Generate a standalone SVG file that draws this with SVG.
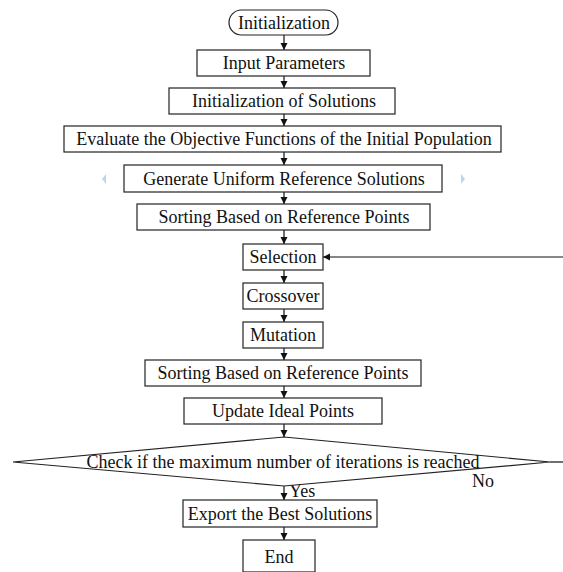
<svg xmlns="http://www.w3.org/2000/svg" width="563" height="572" viewBox="0 0 563 572">
<defs>
<marker id="ah" markerWidth="8" markerHeight="8" refX="7" refY="4" orient="auto" markerUnits="userSpaceOnUse">
<path d="M0,0.5 L7,4 L0,7.5 Z" fill="#111"/>
</marker>
</defs>
<style>
.box{fill:#fff;stroke:#222;stroke-width:1.2}
.t{font-family:"Liberation Serif","Times New Roman",serif;font-size:18px;fill:#111;text-anchor:middle}
.c{stroke:#111;stroke-width:1.2;fill:none}
.tri{fill:#b9d6ea}
</style>
<rect width="563" height="572" fill="#fff"/>
<g id="connectors">
<line class="c" x1="284" y1="35" x2="284" y2="50" marker-end="url(#ah)"/>
<line class="c" x1="284" y1="76" x2="284" y2="88" marker-end="url(#ah)"/>
<line class="c" x1="284" y1="114" x2="284" y2="126" marker-end="url(#ah)"/>
<line class="c" x1="284" y1="152" x2="284" y2="165" marker-end="url(#ah)"/>
<line class="c" x1="284" y1="192" x2="284" y2="204" marker-end="url(#ah)"/>
<line class="c" x1="284" y1="230" x2="284" y2="244" marker-end="url(#ah)"/>
<line class="c" x1="284" y1="270" x2="284" y2="283" marker-end="url(#ah)"/>
<line class="c" x1="284" y1="309" x2="284" y2="322" marker-end="url(#ah)"/>
<line class="c" x1="284" y1="348" x2="284" y2="360" marker-end="url(#ah)"/>
<line class="c" x1="284" y1="386" x2="284" y2="398" marker-end="url(#ah)"/>
<line class="c" x1="284" y1="424" x2="284" y2="437" marker-end="url(#ah)"/>
<line class="c" x1="284" y1="486" x2="284" y2="500" marker-end="url(#ah)"/>
<line class="c" x1="284" y1="527" x2="284" y2="540" marker-end="url(#ah)"/>
<polyline class="c" points="550,462 563,462"/>
<line class="c" x1="563" y1="257" x2="323" y2="257" marker-end="url(#ah)"/>
<text class="t" x="289" y="497" style="text-anchor:start">Yes</text>
<text class="t" x="472" y="487" style="text-anchor:start">No</text>
</g>
<g id="n-init"><rect class="box" x="229" y="10" width="109" height="25" rx="12.5"/><text class="t" x="284" y="29">Initialization</text></g>
<g id="n-input"><rect class="box" x="197" y="50" width="173" height="26"/><text class="t" x="284" y="69">Input Parameters</text></g>
<g id="n-initsol"><rect class="box" x="169" y="88" width="226" height="26"/><text class="t" x="284" y="107">Initialization of Solutions</text></g>
<g id="n-eval"><rect class="box" x="64" y="126" width="437" height="26"/><text class="t" x="284" y="145">Evaluate the Objective Functions of the Initial Population</text></g>
<g id="n-gen"><rect class="box" x="124" y="165" width="318" height="27"/><text class="t" x="284" y="185">Generate Uniform Reference Solutions</text>
<path class="tri" d="M106,174 L102,179 L106,184 Z"/><path class="tri" d="M461,174 L465,179 L461,184 Z"/></g>
<g id="n-sort1"><rect class="box" x="137" y="204" width="293" height="26"/><text class="t" x="284" y="223">Sorting Based on Reference Points</text></g>
<g id="n-sel"><rect class="box" x="243" y="244" width="80" height="26"/><text class="t" x="283" y="263">Selection</text></g>
<g id="n-cross"><rect class="box" x="243" y="283" width="80" height="26"/><text class="t" x="283" y="302">Crossover</text></g>
<g id="n-mut"><rect class="box" x="243" y="322" width="80" height="26"/><text class="t" x="283" y="341">Mutation</text></g>
<g id="n-sort2"><rect class="box" x="145" y="360" width="276" height="26"/><text class="t" x="283" y="379">Sorting Based on Reference Points</text></g>
<g id="n-update"><rect class="box" x="184" y="398" width="198" height="26"/><text class="t" x="283" y="417">Update Ideal Points</text></g>
<g id="n-check"><polygon class="box" points="284,437 550,462 284,486 13,462"/><text class="t" x="283" y="468">Check if the maximum number of iterations is reached</text></g>
<g id="n-export"><rect class="box" x="183" y="500" width="194" height="27"/><text class="t" x="280" y="520">Export the Best Solutions</text></g>
<g id="n-end"><rect class="box" x="243" y="540" width="72" height="32"/><text class="t" x="279" y="563">End</text></g>
</svg>
